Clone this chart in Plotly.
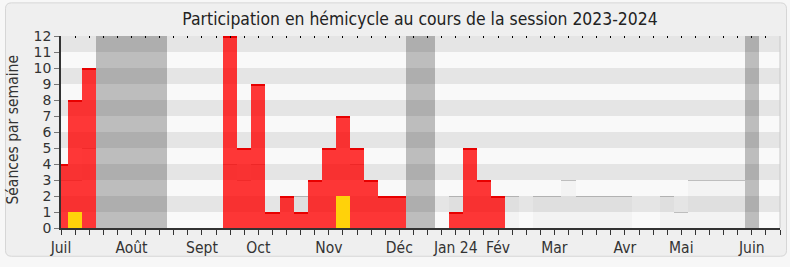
import plotly.graph_objects as go

# ---- data (week index 0 = first week of July 2023) ----
weeks = list(range(52))
presence = [4, 8, 10, 0, 0, 0, 0, 0, 0, 0, 0, 0, 12, 5, 9, 1, 2, 1, 3, 5,
            7, 5, 3, 2, 2, 0, 0, 0, 1, 5, 3, 2, 0, 0, 0, 0, 0, 0, 0, 0,
            0, 0, 0, 0, 0, 0, 0, 0, 0, 0, 0, 0]
median = [3, 3, 5, 0, 0, 0, 0, 0, 0, 0, 0, 0, 4, 3, 4, 1, 2, 2, 3, 5,
          7, 4, 3, 2, 2, 0, 0, 0, 2, 5, 3, 2, 2, 0, 2, 2, 3, 2, 2, 2,
          2, 0, 0, 2, 1, 3, 3, 3, 3, 0, 0, 0]
interventions = [0, 1, 0, 0, 0, 0, 0, 0, 0, 0, 0, 0, 0, 0, 0, 0, 0, 0, 0, 0,
                 2, 0, 0, 0, 0, 0, 0, 0, 0, 0, 0, 0, 0, 0, 0, 0, 0, 0, 0, 0,
                 0, 0, 0, 0, 0, 0, 0, 0, 0, 0, 0, 0]
holiday_weeks = [3, 4, 5, 6, 7, 25, 26, 49]
month_pos = [0, 5, 10, 14, 19, 24, 28, 31, 35, 40, 44, 49]
month_labels = ["Juil", "Août", "Sept", "Oct", "Nov", "Déc", "Jan 24", "Fév",
                "Mar", "Avr", "Mai", "Juin"]
y_max = 12

W, H = 790, 267
ML, MR, MT, MB = 61, 10, 36, 34
PW, PH = W - ML - MR, H - MT - MB

FONT_C = "'DejaVu Sans Condensed', 'Liberation Sans', sans-serif"
FONT_N = "'DejaVu Sans', sans-serif"

def px2paper_x(px):
    return (px - ML) / PW

def px2paper_y(py):
    return (H - MB - py) / PH

fig = go.Figure()

# median (grey) bars + their top line
fig.add_trace(go.Bar(x=weeks, y=median, width=1, marker=dict(color="rgba(0,0,0,0.025)", line=dict(width=0)),
                     hoverinfo="skip"))
med_idx = [i for i, v in enumerate(median) if v > 0]
fig.add_trace(go.Bar(x=[weeks[i] for i in med_idx], y=[0.09] * len(med_idx),
                     base=[median[i] - 0.09 for i in med_idx], width=1,
                     marker=dict(color="rgba(110,110,110,0.4)", line=dict(width=0)), hoverinfo="skip"))
# presence (red) bars + darker top line
fig.add_trace(go.Bar(x=weeks, y=presence, width=1, marker=dict(color="rgba(255,0,0,0.78)", line=dict(width=0)),
                     hoverinfo="skip"))
pr_idx = [i for i, v in enumerate(presence) if v > 0]
fig.add_trace(go.Bar(x=[weeks[i] for i in pr_idx], y=[0.09] * len(pr_idx),
                     base=[presence[i] - 0.09 for i in pr_idx], width=1,
                     marker=dict(color="rgb(232,0,0)", line=dict(width=0)), hoverinfo="skip"))
# interventions (yellow)
fig.add_trace(go.Bar(x=weeks, y=interventions, width=1,
                     marker=dict(color="rgb(255,210,10)", line=dict(width=0)), hoverinfo="skip"))
# holidays (dark translucent bands), drawn on the top axis overlay
fig.add_trace(go.Bar(x=holiday_weeks, y=[y_max] * len(holiday_weeks), width=1, xaxis="x2",
                     marker=dict(color="rgba(0,0,0,0.24)", line=dict(width=0)), hoverinfo="skip"))

shapes = []
# outer rounded frame
x0, x1 = px2paper_x(5.5), px2paper_x(786.5)
y0, y1 = px2paper_y(262), px2paper_y(2)
rx, ry = 6 / PW, 6 / PH
path = (f"M {x0+rx},{y1} L {x1-rx},{y1} Q {x1},{y1} {x1},{y1-ry} L {x1},{y0+ry} "
        f"Q {x1},{y0} {x1-rx},{y0} L {x0+rx},{y0} Q {x0},{y0} {x0},{y0+ry} L {x0},{y1-ry} Q {x0},{y1} {x0+rx},{y1} Z")
shapes.append(dict(type="path", path=path, xref="paper", yref="paper", layer="below",
                   fillcolor="#efefef", line=dict(color="#d6d6d6", width=1)))
# plot area background
shapes.append(dict(type="rect", xref="paper", yref="paper", x0=0, x1=1, y0=0, y1=1, layer="below",
                   fillcolor="#f9f9f9", line=dict(width=0)))
# alternating stripes
for k in range(1, y_max, 2):
    shapes.append(dict(type="rect", xref="paper", yref="y", x0=0, x1=1, y0=k, y1=k + 1, layer="below",
                       fillcolor="#e5e5e5", line=dict(width=0)))
# right border of plot
shapes.append(dict(type="line", xref="paper", yref="paper", x0=1, x1=1, y0=0, y1=1,
                   line=dict(color="#c8c8c8", width=1)))

fig.update_layout(
    width=W, height=H, margin=dict(l=ML, r=MR, t=MT, b=MB),
    paper_bgcolor="#f7f7f7", plot_bgcolor="rgba(0,0,0,0)",
    barmode="overlay", showlegend=False, bargap=0,
    shapes=shapes,
    title=dict(text="Participation en hémicycle au cours de la session 2023-2024",
               x=px2paper_x(420), xref="paper", xanchor="center",
               y=1 - 19 / H, yref="container", yanchor="middle",
               font=dict(family=FONT_C, size=17.4, color="#222")),
    annotations=[dict(text="Séances par semaine", textangle=-90, showarrow=False,
                      xref="paper", yref="paper", x=px2paper_x(13), y=px2paper_y(132),
                      xanchor="center", yanchor="middle",
                      font=dict(family=FONT_C, size=15.5, color="#333"))],
    xaxis=dict(range=[0, 51], tickvals=month_pos, ticktext=month_labels,
               ticks="outside", ticklen=5, tickcolor="#333", tickwidth=1,
               minor=dict(tick0=0, dtick=1, ticks="outside", ticklen=5, tickcolor="#333", showgrid=False),
               showline=True, linecolor="#333", linewidth=1.5, showgrid=False, zeroline=False,
               tickfont=dict(family=FONT_C, size=15.5, color="#333"), fixedrange=True),
    xaxis2=dict(overlaying="x", matches="x", side="top", showticklabels=False,
                ticks="inside", ticklen=2, tickcolor="#000", tick0=0, dtick=1,
                showline=False, showgrid=False, zeroline=False),
    yaxis=dict(range=[0, y_max], dtick=1, tick0=0, ticks="outside", ticklen=5, tickcolor="#777",
               showline=True, linecolor="#333", linewidth=1.5, showgrid=False, zeroline=False,
               tickfont=dict(family=FONT_N, size=14, color="#333"), fixedrange=True),
)

fig.write_html("out.html", config={"displayModeBar": False})
